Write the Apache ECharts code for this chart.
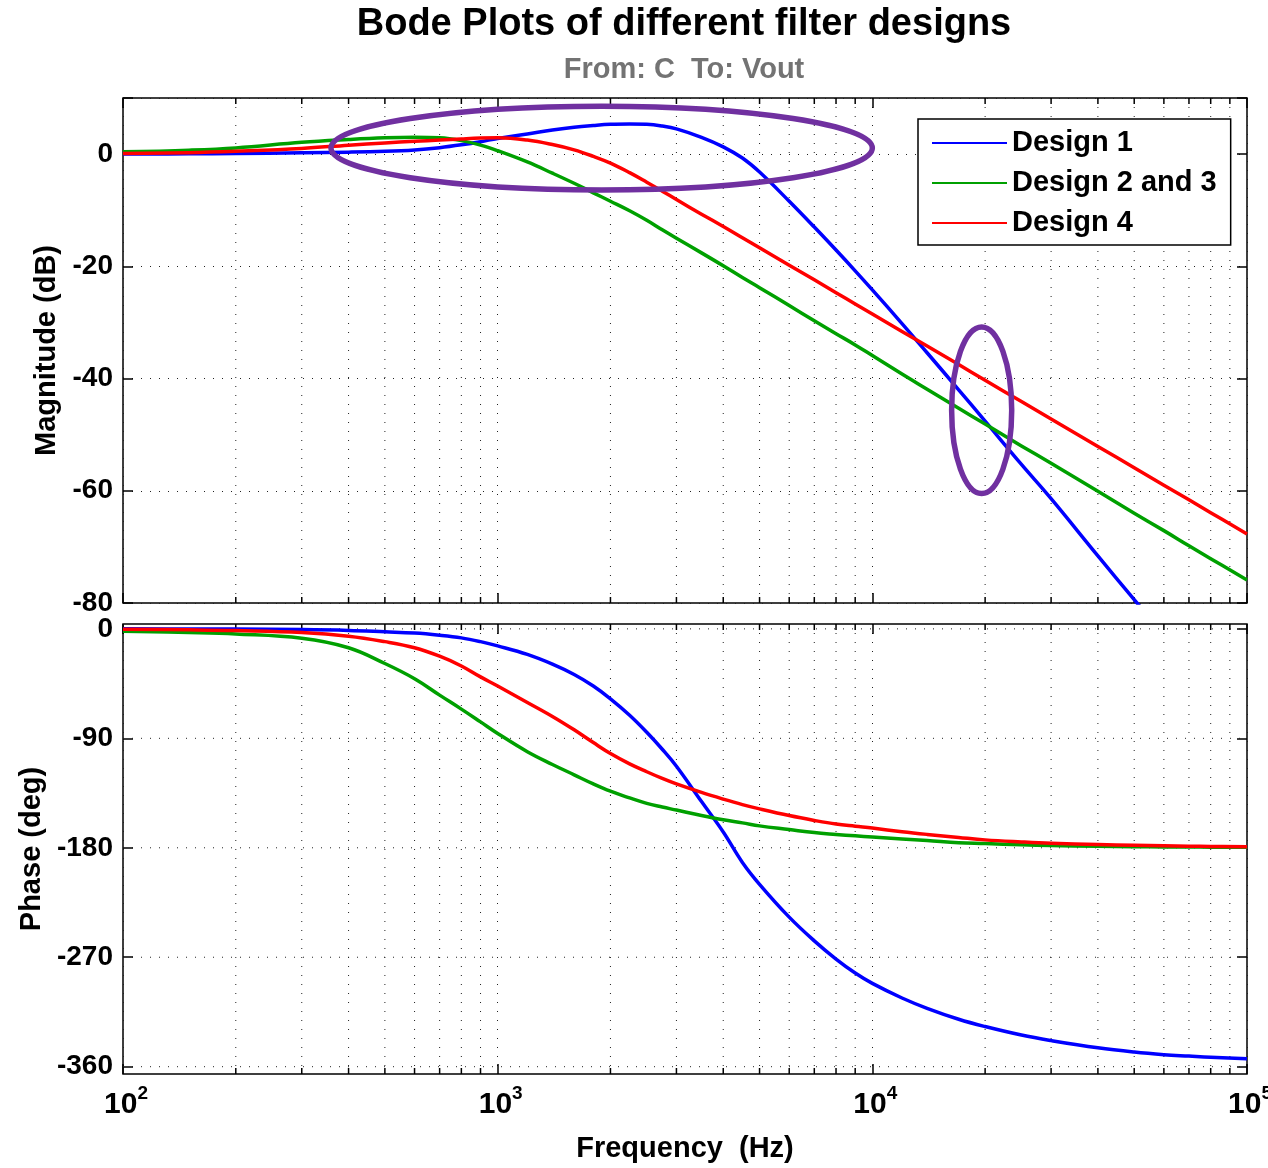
<!DOCTYPE html>
<html><head><meta charset="utf-8">
<script src="https://cdn.jsdelivr.net/npm/echarts@6/dist/echarts.min.js"></script>
<style>html,body{margin:0;padding:0;background:#fff}#c{width:1268px;height:1168px}</style>
</head><body><div id="c"></div>
<script>
// ---- data ----
const freqs = [100,150,200,300,400,500,600,700,800,900,
  1000,1200,1400,1600,1800,2000,2250,2500,2750,3000,
  3500,4000,4500,5000,6000,7000,8000,9000,
  10000,12000,14000,17000,20000,25000,30000,40000,50000,60000,70000,80000,100000];
const seriesNames = ['Design 1','Design 2 and 3','Design 4'];
const magDesign1 = [0.0,0.05,0.1,0.25,0.35,0.5,0.75,1.15,1.65,2.2,
  2.8,3.6,4.3,4.8,5.1,5.3,5.35,5.3,5.0,4.5,
  3.0,1.3,-0.7,-3.2,-8.4,-13.0,-17.1,-20.8,
  -24.2,-30.2,-35.4,-42.0,-47.6,-55.3,-61.4,-71.6,-79.4,-85.7,null,null,null];
const magDesign23 = [0.4,0.7,1.1,2.1,2.6,2.9,3.0,2.9,2.4,1.6,
  0.6,-1.4,-3.4,-5.2,-6.9,-8.4,-10.1,-11.8,-13.5,-15.0,
  -17.6,-19.9,-22.0,-23.8,-27.0,-29.7,-32.0,-34.0,
  -35.9,-39.2,-41.9,-45.3,-48.1,-52.0,-55.1,-60.1,-64.0,-67.1,-69.8,-72.1,-75.9];
const magDesign4 = [0.1,0.25,0.5,1.0,1.6,2.0,2.3,2.5,2.7,2.85,
  2.9,2.5,1.7,0.75,-0.4,-1.6,-3.3,-5.0,-6.6,-8.1,
  -10.7,-12.9,-14.9,-16.7,-19.8,-22.4,-24.7,-26.7,
  -28.5,-31.6,-34.2,-37.5,-40.3,-44.1,-47.2,-52.1,-55.9,-59.0,-61.6,-63.9,-67.7];
const phaseDesign1 = [0,-0.1,-0.2,-0.6,-1.3,-2.4,-3.4,-5.2,-7.4,-10.5,
  -14,-21,-29,-37.5,-47,-57.5,-71,-85,-99,-113,
  -142,-167,-192,-210,-237,-256.5,-271.5,-283,
  -291.5,-303.5,-312,-321,-327,-334,-338.5,-344.5,-348,-350.1,-351.3,-352.3,-353.5];
const phaseDesign23 = [-2,-3,-4.2,-7.7,-15.5,-28.5,-41,-54.5,-66,-76.5,
  -86,-101,-111.5,-120,-127.5,-133.5,-139,-143.5,-146.5,-149,
  -153.5,-157,-159.5,-162,-165,-167.5,-169,-170.2,
  -171.2,-172.8,-174,-175.8,-176.5,-177.6,-178.2,-178.8,-179.1,-179.3,-179.4,-179.5,-179.6];
const phaseDesign4 = [-0.3,-0.8,-1.4,-3.0,-6.0,-10.5,-15.5,-22.5,-30.5,-39.5,
  -47,-60.5,-72,-83,-93.5,-102.5,-111,-117.5,-123,-127.5,
  -134.5,-140,-144.5,-148,-153.5,-157.5,-160.5,-162.3,
  -163.8,-166.8,-169,-171.5,-173.5,-175.2,-176.3,-177.3,-178,-178.4,-178.7,-178.9,-179.2];
const magTicks = [0,-20,-40,-60,-80];
const phaseTicks = [0,-90,-180,-270,-360];
const minorFreqs = [200,300,400,500,600,700,800,900,
  2000,3000,4000,5000,6000,7000,8000,9000,
  20000,30000,40000,50000,60000,70000,80000,90000];
// annotation ellipses (bounds in data units: Hz and dB)
const ellipseFreqLo = [359, 16280];
const ellipseFreqHi = [10000, 23550];
const ellipseDbLo = [-6.4, -60.5];
const ellipseDbHi = [8.55, -30.8];

// ---- styles ----
const FONT = '"Liberation Sans", Arial, sans-serif';
const colors = ['#0000ff', '#00a000', '#ff0000'];
const gridDot = {color: '#222', width: 1, type: [1, 8]};

const pair = arr => freqs.map((f, i) => [f, arr[i]]);

function minorRender(params, api) {
  const cs = params.coordSys;
  const x = api.coord([api.value(0), api.value(1)])[0];
  const top = cs.y, bot = cs.y + cs.height;
  return {type: 'group', children: [
    {type: 'line', shape: {x1: x, y1: top, x2: x, y2: bot}, style: {stroke: '#222', lineWidth: 1, lineDash: [1, 8]}},
    {type: 'line', shape: {x1: x, y1: bot, x2: x, y2: bot - 6}, style: {stroke: '#000', lineWidth: 1.5}},
    {type: 'line', shape: {x1: x, y1: top, x2: x, y2: top + 6}, style: {stroke: '#000', lineWidth: 1.5}}
  ]};
}
function hGridRender(params, api) {
  const cs = params.coordSys;
  const y = api.coord([1000, api.value(0)])[1];
  return {type: 'line', shape: {x1: cs.x, y1: y, x2: cs.x + cs.width, y2: y},
    style: {stroke: '#222', lineWidth: 1, lineDash: [1, 8]}};
}

const tickStyle = {show: true, inside: true, length: 10, lineStyle: {color: '#000', width: 1.5}};
const gridBox = {show: true, borderColor: '#000', borderWidth: 1.5, backgroundColor: '#fff',
  outerBoundsMode: 'none', containLabel: false};

function xAx(grid, pos, labels, split) {
  return {
    gridIndex: grid, type: 'log', logBase: 10, min: 100, max: 100000, position: pos,
    axisLine: {show: false, onZero: false}, axisTick: tickStyle, minorTick: {show: false},
    splitLine: {show: split, lineStyle: gridDot},
    axisLabel: labels ? {
      show: true, margin: 10, color: '#000', hideOverlap: false,
      formatter: v => '{p|}{b|10}{s|' + Math.round(Math.log10(v)) + '}',
      rich: {
        p: {width: 6},
        b: {fontSize: 30, fontWeight: 'bold', fontFamily: FONT, color: '#000', lineHeight: 36, verticalAlign: 'bottom'},
        s: {fontSize: 19, fontWeight: 'bold', fontFamily: FONT, color: '#000', lineHeight: 19, verticalAlign: 'top'}
      }
    } : {show: false},
    name: labels ? 'Frequency  (Hz)' : '', nameLocation: 'middle', nameGap: 60,
    nameTextStyle: {fontSize: 29, fontWeight: 'bold', fontFamily: FONT, color: '#000'}
  };
}
const yLabelStyle = {color: '#000', fontSize: 28, fontWeight: 'bold', fontFamily: FONT, margin: 10};

const option = {
  backgroundColor: '#fff',
  animation: false,
  title: {
    text: 'Bode Plots of different filter designs',
    subtext: 'From: C  To: Vout',
    left: 684, top: 5, textAlign: 'center', padding: 0, itemGap: 10,
    textStyle: {fontSize: 38, fontWeight: 'bold', fontFamily: FONT, color: '#000', lineHeight: 40},
    subtextStyle: {fontSize: 29, fontWeight: 'bold', fontFamily: FONT, color: '#737373', lineHeight: 30}
  },
  legend: {
    data: seriesNames, orient: 'vertical', left: 918, top: 119,
    icon: 'rect', itemWidth: 75, itemHeight: 2, itemGap: 10,
    backgroundColor: '#fff', borderColor: '#000', borderWidth: 1.5, borderRadius: 0,
    padding: [9, 14, 7, 14],
    textStyle: {fontSize: 29, fontWeight: 'bold', fontFamily: FONT, color: '#000', lineHeight: 30}
  },
  grid: [
    Object.assign({left: 123, top: 98, width: 1124, height: 505}, gridBox),
    Object.assign({left: 123, top: 624, width: 1124, height: 450}, gridBox)
  ],
  xAxis: [xAx(0, 'bottom', false, true), xAx(0, 'top', false, false),
          xAx(1, 'bottom', true, true), xAx(1, 'top', false, false)],
  yAxis: [
    {gridIndex: 0, type: 'value', min: -80, max: 10, interval: 20, position: 'left',
     axisLine: {show: false, onZero: false}, axisTick: tickStyle, splitLine: {show: true, lineStyle: gridDot},
     axisLabel: Object.assign({formatter: v => (v > 0 ? '' : String(v))}, yLabelStyle),
     name: 'Magnitude (dB)', nameLocation: 'middle', nameGap: 61, nameRotate: 90,
     nameTextStyle: {fontSize: 29, fontWeight: 'bold', fontFamily: FONT, color: '#000'}},
    {gridIndex: 0, type: 'value', min: -80, max: 10, interval: 20, position: 'right',
     axisLine: {show: false, onZero: false}, axisTick: tickStyle, splitLine: {show: false}, axisLabel: {show: false}},
    {gridIndex: 1, type: 'value', min: -366, max: 4, position: 'left',
     axisLine: {show: false, onZero: false},
     axisTick: Object.assign({customValues: phaseTicks}, tickStyle),
     splitLine: {show: false},
     axisLabel: Object.assign({customValues: phaseTicks}, yLabelStyle),
     name: 'Phase (deg)', nameLocation: 'middle', nameGap: 77, nameRotate: 90,
     nameTextStyle: {fontSize: 29, fontWeight: 'bold', fontFamily: FONT, color: '#000'}},
    {gridIndex: 1, type: 'value', min: -366, max: 4, position: 'right',
     axisLine: {show: false, onZero: false},
     axisTick: Object.assign({customValues: phaseTicks}, tickStyle),
     splitLine: {show: false}, axisLabel: {show: false, customValues: phaseTicks}}
  ],
  series: [
    {type: 'custom', name: 'minorTop', xAxisIndex: 0, yAxisIndex: 0, z: 1, silent: true,
     renderItem: minorRender, data: minorFreqs.map(f => [f, 0])},
    {type: 'custom', name: 'minorBottom', xAxisIndex: 2, yAxisIndex: 2, z: 1, silent: true,
     renderItem: minorRender, data: minorFreqs.map(f => [f, -180])},
    {type: 'custom', name: 'phaseGrid', xAxisIndex: 2, yAxisIndex: 2, z: 1, silent: true,
     renderItem: hGridRender, data: phaseTicks.map(v => [v])},
    {type: 'line', name: seriesNames[0], xAxisIndex: 0, yAxisIndex: 0, data: pair(magDesign1)},
    {type: 'line', name: seriesNames[1], xAxisIndex: 0, yAxisIndex: 0, data: pair(magDesign23)},
    {type: 'line', name: seriesNames[2], xAxisIndex: 0, yAxisIndex: 0, data: pair(magDesign4)},
    {type: 'line', name: seriesNames[0], xAxisIndex: 2, yAxisIndex: 2, data: pair(phaseDesign1)},
    {type: 'line', name: seriesNames[1], xAxisIndex: 2, yAxisIndex: 2, data: pair(phaseDesign23)},
    {type: 'line', name: seriesNames[2], xAxisIndex: 2, yAxisIndex: 2, data: pair(phaseDesign4)}
  ].map(s => {
    if (s.type !== 'line') return s;
    const ci = seriesNames.indexOf(s.name);
    return Object.assign(s, {
      showSymbol: false, symbol: 'none', smooth: 0.4, clip: true, z: 3,
      color: colors[ci], lineStyle: {color: colors[ci], width: 3.5, join: 'round'}, connectNulls: false
    });
  })
};

const chart = echarts.init(document.getElementById('c'), null, {renderer: 'canvas'});
chart.setOption(option);

// annotation ellipses positioned from data coordinates
const ellipses = [];
for (let i = 0; i < ellipseFreqLo.length; i++) {
  const a = chart.convertToPixel({xAxisIndex: 0, yAxisIndex: 0}, [ellipseFreqLo[i], ellipseDbHi[i]]);
  const b = chart.convertToPixel({xAxisIndex: 0, yAxisIndex: 0}, [ellipseFreqHi[i], ellipseDbLo[i]]);
  ellipses.push({
    type: 'ellipse', z: 100, silent: true,
    shape: {cx: (a[0] + b[0]) / 2, cy: (a[1] + b[1]) / 2, rx: Math.abs(b[0] - a[0]) / 2, ry: Math.abs(b[1] - a[1]) / 2},
    style: {fill: 'none', stroke: '#7030a0', lineWidth: 5.5}
  });
}
chart.setOption({graphic: ellipses});
</script>
</body></html>
